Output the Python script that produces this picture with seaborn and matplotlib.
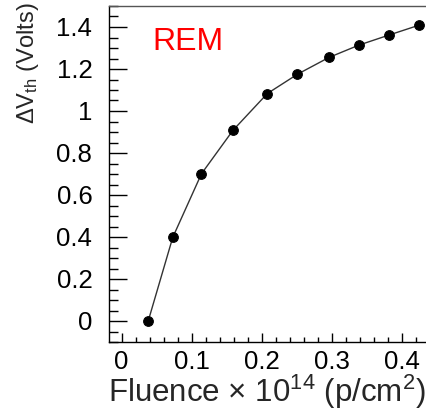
import matplotlib
matplotlib.use("Agg")
import matplotlib.pyplot as plt
import seaborn as sns
import pandas as pd
from matplotlib.ticker import MultipleLocator, FuncFormatter

fluence = [0.038, 0.073, 0.114, 0.159, 0.208, 0.251, 0.296, 0.339, 0.382, 0.425]
delta_vth = [0.0, 0.398, 0.701, 0.908, 1.083, 1.175, 1.255, 1.314, 1.362, 1.409]
label_text = "REM"

sns.set_theme(style="ticks")
plt.rcParams["font.family"] = ["Liberation Sans", "DejaVu Sans"]
plt.rcParams["mathtext.fontset"] = "custom"
plt.rcParams["mathtext.rm"] = "Liberation Sans"
plt.rcParams["mathtext.it"] = "Liberation Sans:italic"
plt.rcParams["mathtext.bf"] = "Liberation Sans:bold"

df = pd.DataFrame({"fluence": fluence, "dv": delta_vth})

W, H = 427, 412
fig = plt.figure(figsize=(W / 100, H / 100), dpi=100)
ax = fig.add_axes([109 / W, 1 - 342 / H, (427 - 109) / W, (342 - 6) / H])

sns.lineplot(data=df, x="fluence", y="dv", ax=ax, color="#333333", linewidth=1.0,
             marker="o", markersize=7, markerfacecolor="black", markeredgecolor="black")

ax.set_xlim(-0.018, 0.436)
ax.set_ylim(-0.1, 1.5)

ax.xaxis.set_major_locator(MultipleLocator(0.1))
ax.xaxis.set_minor_locator(MultipleLocator(0.02))
ax.yaxis.set_major_locator(MultipleLocator(0.2))
ax.yaxis.set_minor_locator(MultipleLocator(0.05))
fmt = FuncFormatter(lambda v, p: ("%g" % round(v, 3)))
ax.xaxis.set_major_formatter(fmt)
ax.yaxis.set_major_formatter(fmt)

ax.tick_params(axis="both", which="both", direction="in", colors="black",
               labelsize=18.5, width=1.0)
ax.tick_params(axis="y", which="major", length=13, pad=12)
ax.tick_params(axis="y", which="minor", length=6.5)
ax.tick_params(axis="x", which="major", length=6.5, pad=6)
ax.tick_params(axis="x", which="minor", length=3.8)

for s in ["left", "bottom"]:
    ax.spines[s].set_color("black")
    ax.spines[s].set_linewidth(1.0)
ax.spines["top"].set_color("#555555")
ax.spines["top"].set_linewidth(1.0)
ax.spines["right"].set_visible(False)

ax.set_xlabel(r"Fluence × 10$^{\mathregular{14}}$ (p/cm$^{\mathregular{2}}$)", fontsize=22.5)
ax.xaxis.set_label_coords(0.995, -(402 - 342) / 336)
ax.xaxis.label.set_horizontalalignment("right")
ax.xaxis.label.set_verticalalignment("baseline")
ax.set_ylabel(r"ΔV$_{\mathregular{th}}$ (Volts)", fontsize=17)
ax.yaxis.set_label_coords((28 - 109) / 318, 1.012)
ax.yaxis.label.set_horizontalalignment("right")
ax.yaxis.label.set_verticalalignment("center")

ax.text(0.135, 0.869, label_text, transform=ax.transAxes, color="red",
        fontsize=23, ha="left", va="baseline")

fig.savefig("out.png", dpi=100)
